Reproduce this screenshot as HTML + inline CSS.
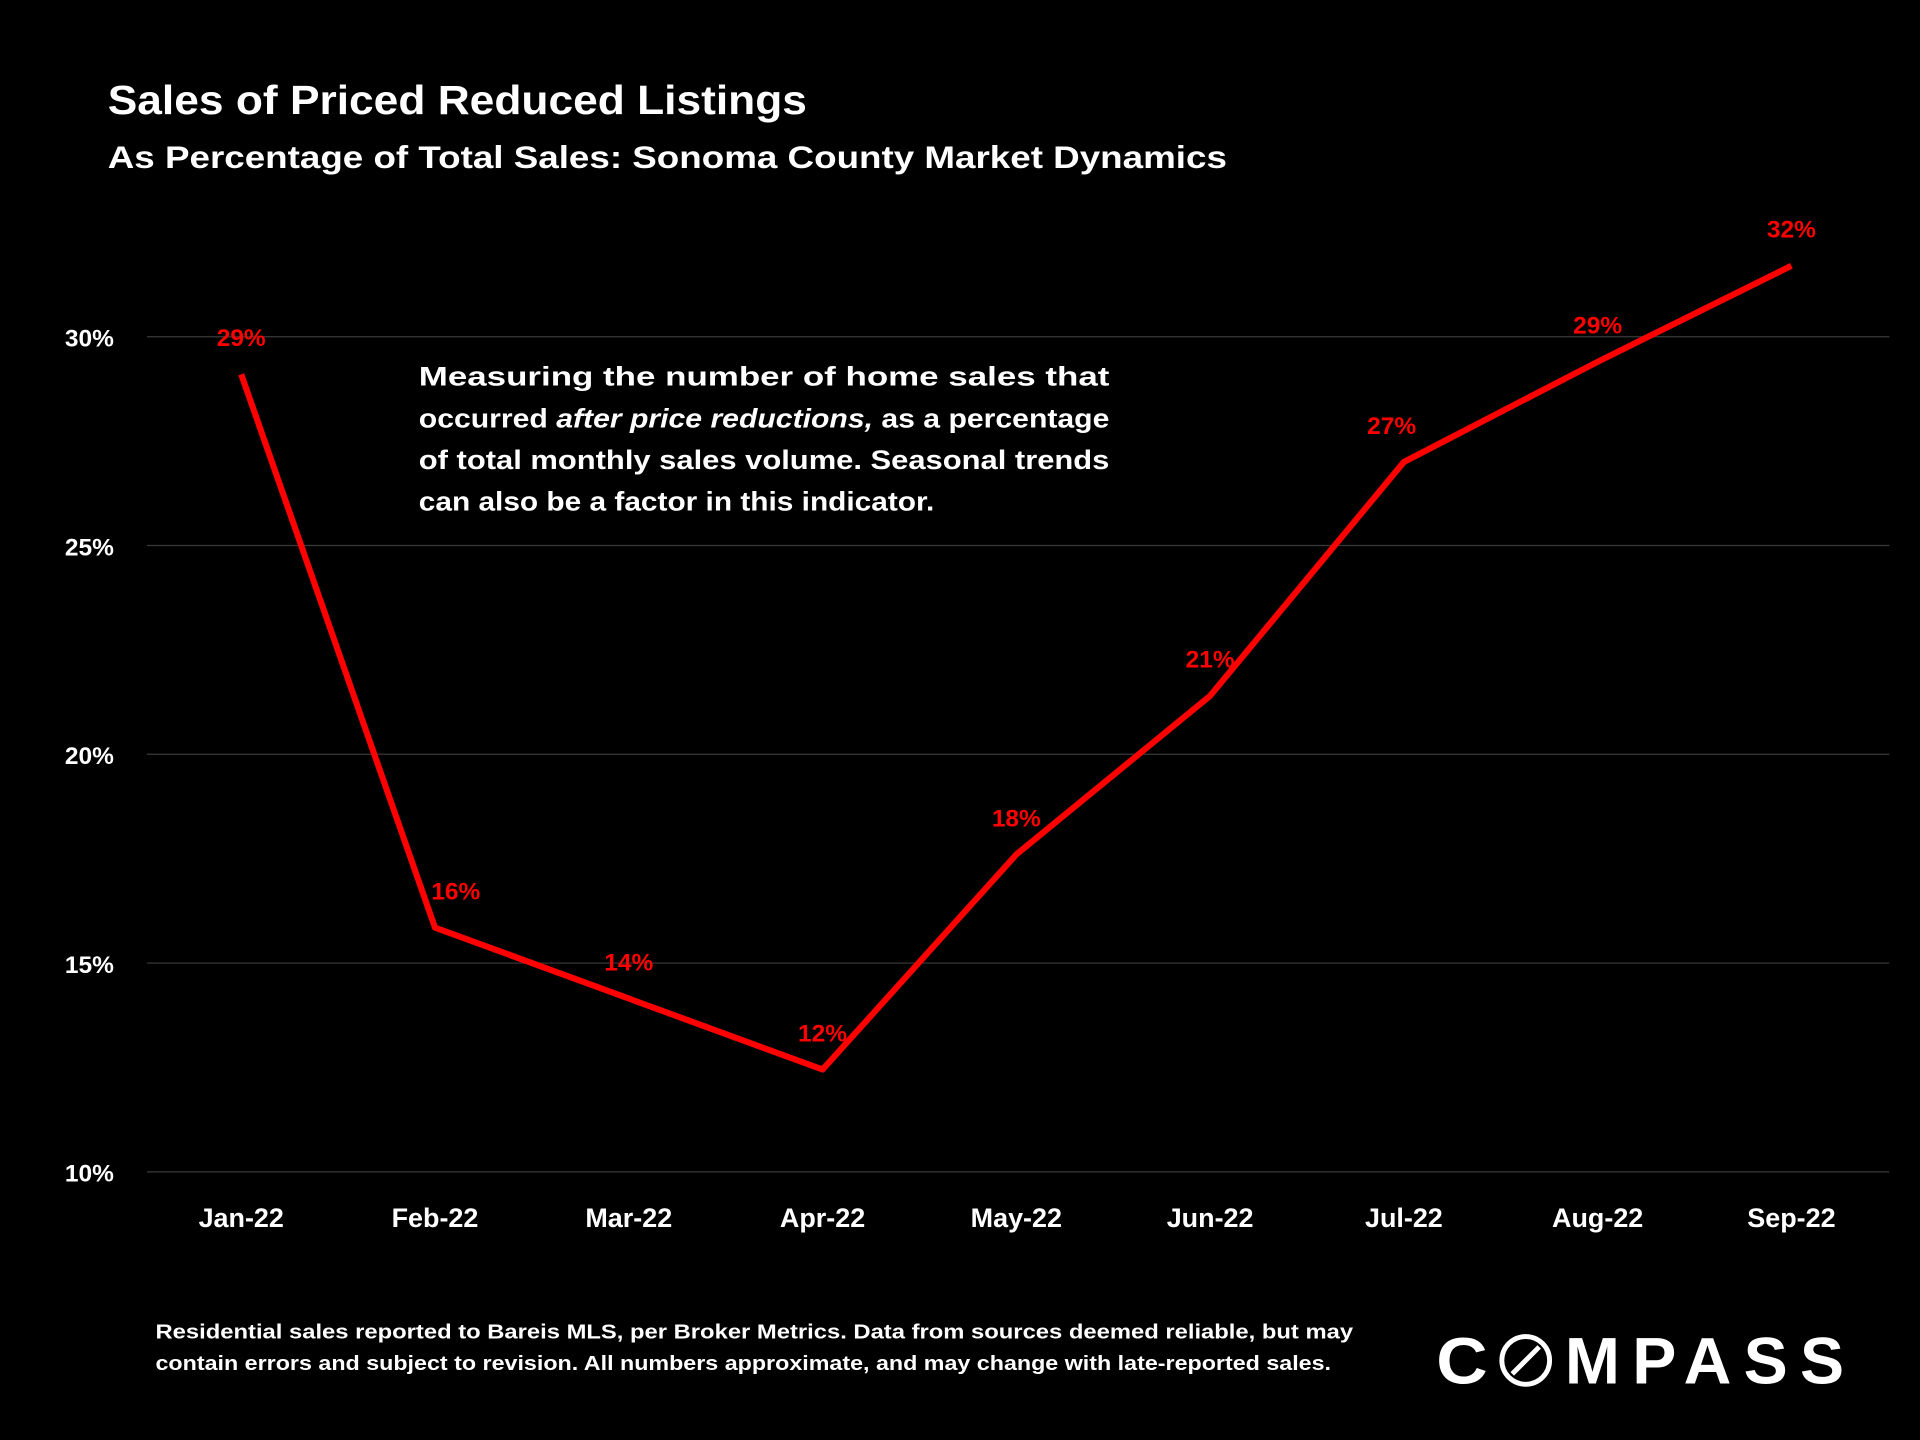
<!DOCTYPE html>
<html><head><meta charset="utf-8"><style>
html,body{margin:0;padding:0;background:#000;}
svg{display:block;}
text{font-family:"Liberation Sans",sans-serif;font-weight:bold;}
</style></head><body>
<svg id="chart" width="1920" height="1440" viewBox="0 0 1568 1176" xmlns="http://www.w3.org/2000/svg">
<rect width="1568" height="1176" fill="#000"/>
<text x="88" y="93" font-size="33" fill="#fff" textLength="571" lengthAdjust="spacingAndGlyphs">Sales of Priced Reduced Listings</text>
<text x="88" y="137" font-size="26" fill="#fff" textLength="914" lengthAdjust="spacingAndGlyphs">As Percentage of Total Sales:  Sonoma County Market Dynamics</text>
<g id="grid"></g>
<g id="yticks"></g>
<g id="xticks"></g>
<g fill="#fff" font-size="22">
<text x="342" y="315" textLength="564" lengthAdjust="spacingAndGlyphs">Measuring the number of home sales that</text>
<text x="342" y="349" textLength="564" lengthAdjust="spacingAndGlyphs">occurred <tspan font-style="italic">after price reductions,</tspan> as a percentage</text>
<text x="342" y="383" textLength="564" lengthAdjust="spacingAndGlyphs">of total monthly sales volume. Seasonal trends</text>
<text x="342" y="417" textLength="421" lengthAdjust="spacingAndGlyphs">can also be a factor in this indicator.</text>
</g>
<g id="series"></g>
<g id="labels"></g>
<g fill="#fff" font-size="16.5">
<text x="127" y="1093" textLength="978" lengthAdjust="spacingAndGlyphs">Residential sales reported to Bareis MLS, per Broker Metrics. Data from sources deemed reliable, but may</text>
<text x="127" y="1119" textLength="960" lengthAdjust="spacingAndGlyphs">contain errors and subject to revision. All numbers approximate, and may change with late-reported sales.</text>
</g>
<g fill="#fff">
<text x="1173" y="1130" font-size="54" font-weight="normal" textLength="42" lengthAdjust="spacingAndGlyphs">C</text>
<circle cx="1246" cy="1111" r="19.5" fill="none" stroke="#fff" stroke-width="4"/>
<line x1="1235" y1="1122" x2="1257" y2="1100" stroke="#fff" stroke-width="4"/>
<text x="1278" y="1130" font-size="54" font-weight="normal" textLength="228" lengthAdjust="spacing">MPASS</text>
</g>
</svg>
<script>
const categories=["Jan-22","Feb-22","Mar-22","Apr-22","May-22","Jun-22","Jul-22","Aug-22","Sep-22"];
const values=[29.1,15.85,14.15,12.45,17.6,21.4,27.0,29.4,31.7];
const valueLabels=["29%","16%","14%","12%","18%","21%","27%","29%","32%"];
const yTicks=[10,15,20,25,30];
const yTickLabels=["10%","15%","20%","25%","30%"];
const NS="http://www.w3.org/2000/svg";
const yScale=v=>957-(v-10)*(957-275)/20;
const xScale=i=>197+i*158.25;
function mk(tag,attrs,parent){const e=document.createElementNS(NS,tag);for(const k in attrs)e.setAttribute(k,attrs[k]);parent.appendChild(e);return e;}
const grid=document.getElementById('grid'),yt=document.getElementById('yticks'),xt=document.getElementById('xticks');
yTicks.forEach((t,i)=>{
 const l=mk('line',{x1:120,x2:1543,y1:yScale(t),y2:yScale(t),stroke:'#3a3a3a','stroke-width':1},grid);
 
 
 const tx=mk('text',{x:93,y:yScale(t)+8,'text-anchor':'end','font-size':20,fill:'#fff'},yt);
 tx.textContent=yTickLabels[i];
 
 
});
categories.forEach((c,i)=>{
 const tx=mk('text',{x:xScale(i),y:1002,'text-anchor':'middle','font-size':22,fill:'#fff'},xt);
 tx.textContent=c;
 
 
});
const pts=values.map((v,i)=>xScale(i)+','+yScale(v)).join(' ');
const pl=mk('polyline',{points:pts,fill:'none',stroke:'#ff0000','stroke-width':5,'stroke-linejoin':'round'},document.getElementById('series'));


const lg=document.getElementById('labels');
values.forEach((v,i)=>{
 let dx=0;
 if(i===1)dx=17;
 if(i===6)dx=-10;
 const tx=mk('text',{x:xScale(i)+dx,y:yScale(v)-23,'text-anchor':'middle','font-size':20,fill:'#ff0000'},lg);
 tx.textContent=valueLabels[i];
 
 
});
</script>
</body></html>
